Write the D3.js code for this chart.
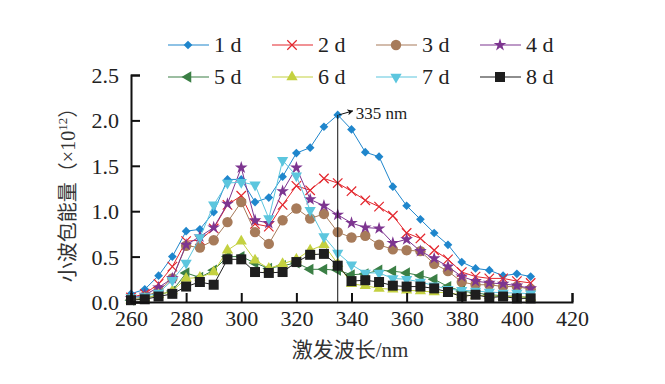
<!DOCTYPE html>
<html>
<head>
<meta charset="utf-8">
<script src="https://cdn.jsdelivr.net/npm/d3@7"></script>
<style>
  body { margin: 0; background: #fff; }
  text { font-family: "Liberation Serif", "Times New Roman", serif; }
  .cjk { font-family: "Liberation Serif", "Noto Sans CJK SC", serif; }
</style>
</head>
<body>
<svg id="chart"></svg>
<script>
// SVG size params
var width = 665;
var height = 384;

// Data: excitation wavelength (nm) and wavelet packet energy (x10^12)
var wavelengths = [260, 265, 270, 275, 280, 285, 290, 295, 300, 305, 310, 315, 320, 325, 330,
                   335, 340, 345, 350, 355, 360, 365, 370, 375, 380, 385, 390, 395, 400, 405];
var seriesNames = ["1 d", "2 d", "3 d", "4 d", "5 d", "6 d", "7 d", "8 d"];
var day1 = [0.09, 0.14, 0.29, 0.50, 0.78, 0.80, 0.99, 1.35, 1.35, 1.10, 1.15, 1.38, 1.64, 1.70, 1.93,
            2.06, 1.90, 1.65, 1.60, 1.27, 1.06, 0.91, 0.76, 0.63, 0.44, 0.37, 0.35, 0.29, 0.31, 0.28];
var day2 = [0.05, 0.09, 0.20, 0.39, 0.67, 0.68, 0.81, 1.07, 1.17, 0.86, 0.83, 1.07, 1.28, 1.23, 1.36,
            1.31, 1.22, 1.12, 1.05, 0.95, 0.76, 0.70, 0.57, 0.47, 0.33, 0.28, 0.26, 0.26, 0.23, 0.21];
var day3 = [0.03, 0.06, 0.12, 0.26, 0.62, 0.60, 0.68, 0.88, 1.10, 0.77, 0.64, 0.90, 1.03, 0.92, 0.97,
            0.77, 0.71, 0.73, 0.63, 0.58, 0.57, 0.56, 0.42, 0.34, 0.22, 0.19, 0.19, 0.17, 0.17, 0.14];
var day4 = [0.04, 0.08, 0.16, 0.26, 0.63, 0.72, 0.82, 1.08, 1.48, 0.90, 0.87, 1.22, 1.48, 1.13, 1.06,
            0.96, 0.87, 0.82, 0.81, 0.65, 0.69, 0.56, 0.48, 0.39, 0.28, 0.23, 0.21, 0.20, 0.18, 0.15];
var day5 = [0.02, 0.04, 0.08, 0.12, 0.32, 0.27, 0.35, 0.50, 0.50, 0.43, 0.37, 0.40, 0.43, 0.36, 0.36,
            0.35, 0.30, 0.31, 0.35, 0.34, 0.32, 0.29, 0.25, 0.17, 0.12, 0.10, 0.08, 0.07, 0.06, 0.05];
var day6 = [0.02, 0.04, 0.08, 0.12, 0.26, 0.27, 0.33, 0.57, 0.67, 0.46, 0.37, 0.42, 0.47, 0.57, 0.63,
            0.42, 0.20, 0.18, 0.15, 0.14, 0.13, 0.12, 0.11, 0.10, 0.08, 0.07, 0.07, 0.06, 0.06, 0.05];
var day7 = [0.05, 0.06, 0.10, 0.24, 0.43, 0.71, 1.07, 1.31, 1.32, 1.29, 0.92, 1.56, 1.39, 1.01, 0.72,
            0.54, 0.41, 0.32, 0.32, 0.26, 0.25, 0.22, 0.18, 0.14, 0.13, 0.12, 0.11, 0.10, 0.10, 0.09];
var day8 = [0.02, 0.03, 0.06, 0.09, 0.17, 0.22, 0.19, 0.47, 0.47, 0.33, 0.32, 0.33, 0.44, 0.52, 0.53,
            0.40, 0.23, 0.24, 0.22, 0.18, 0.17, 0.17, 0.15, 0.11, 0.06, 0.08, 0.05, 0.06, 0.04, 0.04];
var xTicks = [260, 280, 300, 320, 340, 360, 380, 400, 420];
var yTicks = [0.0, 0.5, 1.0, 1.5, 2.0, 2.5];
var peakWavelength = 335;

var allSeries = [day1, day2, day3, day4, day5, day6, day7, day8];
var colors = ["#1f86cc", "#e3262d", "#a77b5a", "#7d3590", "#3b7f45", "#c4d140", "#5cc6de", "#1e1e1e"];
var symbols = ["diamond", "x", "circle", "star", "left", "up", "down", "square"];

// Initiate SVG
var svg = d3.select("#chart")
            .attr("width", width)
            .attr("height", height);

// Plot area
var margin = {left: 131, right: 93, top: 75, bottom: 82};
var x = d3.scaleLinear().domain([260, 420]).range([margin.left, width - margin.right]);
var y = d3.scaleLinear().domain([0, 2.5]).range([height - margin.bottom, margin.top]);

// Marker shapes
function marker(sel, type, color) {
  var gen = d3.symbol();
  if (type == "diamond") {
    sel.append("path").attr("d", gen.type(d3.symbolSquare).size(38)())
      .attr("transform", "rotate(45)").attr("fill", color);
  } else if (type == "x") {
    sel.append("path").attr("d", gen.type(d3.symbolX).size(60)())
      .attr("fill", "none").attr("stroke", color).attr("stroke-width", 1.2);
  } else if (type == "circle") {
    sel.append("path").attr("d", gen.type(d3.symbolCircle).size(85)())
      .attr("fill", color);
  } else if (type == "star") {
    sel.append("path").attr("d", gen.type(d3.symbolStar).size(50)())
      .attr("fill", color);
  } else if (type == "left") {
    sel.append("path").attr("d", gen.type(d3.symbolTriangle).size(55)())
      .attr("transform", "rotate(-90)").attr("fill", color);
  } else if (type == "up") {
    sel.append("path").attr("d", gen.type(d3.symbolTriangle).size(55)())
      .attr("fill", color);
  } else if (type == "down") {
    sel.append("path").attr("d", gen.type(d3.symbolTriangle).size(55)())
      .attr("transform", "rotate(180)").attr("fill", color);
  } else if (type == "square") {
    sel.append("path").attr("d", gen.type(d3.symbolSquare).size(100)())
      .attr("fill", color);
  }
}

var line = d3.line()
  .x(function(d, i) { return x(wavelengths[i]); })
  .y(function(d) { return y(d); });

// Series lines and markers
allSeries.forEach(function(values, s) {
  var g = svg.append("g").attr("class", "series");
  g.append("path")
    .datum(values)
    .attr("d", line)
    .attr("fill", "none")
    .attr("stroke", colors[s])
    .attr("stroke-width", 1);
  g.selectAll("g.pt")
    .data(values)
    .enter().append("g")
      .attr("class", "pt")
      .attr("transform", function(d, i) { return "translate(" + x(wavelengths[i]) + "," + y(d) + ")"; })
      .each(function() { marker(d3.select(this), symbols[s], colors[s]); });
});

// Peak marker line and annotation
var peakValue = day1[wavelengths.indexOf(peakWavelength)];
svg.append("line")
  .attr("x1", x(peakWavelength)).attr("x2", x(peakWavelength))
  .attr("y1", y(peakValue)).attr("y2", y(0))
  .attr("stroke", "#111").attr("stroke-width", 1);

svg.append("defs").append("marker")
  .attr("id", "arrow")
  .attr("viewBox", "0 0 10 10")
  .attr("refX", 9).attr("refY", 5)
  .attr("markerWidth", 6).attr("markerHeight", 6)
  .attr("orient", "auto")
  .append("path").attr("d", "M0,0L10,5L0,10L3,5Z").attr("fill", "#111");

svg.append("line")
  .attr("x1", x(peakWavelength) + 1).attr("y1", y(peakValue))
  .attr("x2", x(peakWavelength) + 15).attr("y2", y(peakValue) - 4)
  .attr("stroke", "#111").attr("stroke-width", 1)
  .attr("marker-end", "url(#arrow)");

svg.append("text")
  .attr("x", x(peakWavelength) + 18)
  .attr("y", y(peakValue) + 4)
  .attr("font-size", 17)
  .attr("fill", "#222")
  .text("335 nm");

// Axes
var xAxis = d3.axisBottom(x).tickValues(xTicks).tickSize(-9).tickPadding(8).tickFormat(d3.format("d"));
var yAxis = d3.axisLeft(y).tickValues(yTicks).tickSize(-9).tickPadding(12).tickFormat(d3.format(".1f"));

var gx = svg.append("g")
  .attr("transform", "translate(0," + y(0) + ")")
  .call(xAxis);
var gy = svg.append("g")
  .attr("transform", "translate(" + x(260) + ",0)")
  .call(yAxis);

[gx, gy].forEach(function(g) {
  g.select(".domain").attr("stroke", "#111").attr("stroke-width", 2);
  g.selectAll(".tick line").attr("stroke", "#111").attr("stroke-width", 2);
  g.selectAll(".tick text")
    .attr("font-family", "Liberation Serif, serif")
    .attr("font-size", 22)
    .attr("fill", "#222");
});
gx.selectAll(".tick text").attr("dy", "0.71em");
gy.selectAll(".tick text").attr("dy", "0.34em");

// Axis titles
svg.append("text")
  .attr("class", "cjk")
  .attr("x", 350)
  .attr("y", 357)
  .attr("text-anchor", "middle")
  .attr("font-size", 21)
  .attr("fill", "#333")
  .text("激发波长/nm");

var yTitle = svg.append("text")
  .attr("class", "cjk")
  .attr("transform", "translate(75," + 190 + ") rotate(-90)")
  .attr("text-anchor", "middle")
  .attr("font-size", 20)
  .attr("fill", "#333");
yTitle.append("tspan").text("小波包能量（×10");
yTitle.append("tspan").attr("dy", -8).attr("font-size", 13).text("12");
yTitle.append("tspan").attr("dy", 8).text("）");

// Legend
var legendCols = [168, 272, 376, 480];
var legendRows = [45, 77];
seriesNames.forEach(function(name, s) {
  var lx = legendCols[s % 4];
  var ly = legendRows[Math.floor(s / 4)];
  var g = svg.append("g").attr("class", "legend");
  g.append("line")
    .attr("x1", lx).attr("x2", lx + 41)
    .attr("y1", ly).attr("y2", ly)
    .attr("stroke", colors[s]).attr("stroke-width", 1.2);
  marker(g.append("g").attr("transform", "translate(" + (lx + 20) + "," + ly + ")"), symbols[s], colors[s]);
  g.append("text")
    .attr("x", lx + 46)
    .attr("y", ly + 7)
    .attr("font-size", 22)
    .attr("fill", "#222")
    .text(name);
});
</script>
</body>
</html>
